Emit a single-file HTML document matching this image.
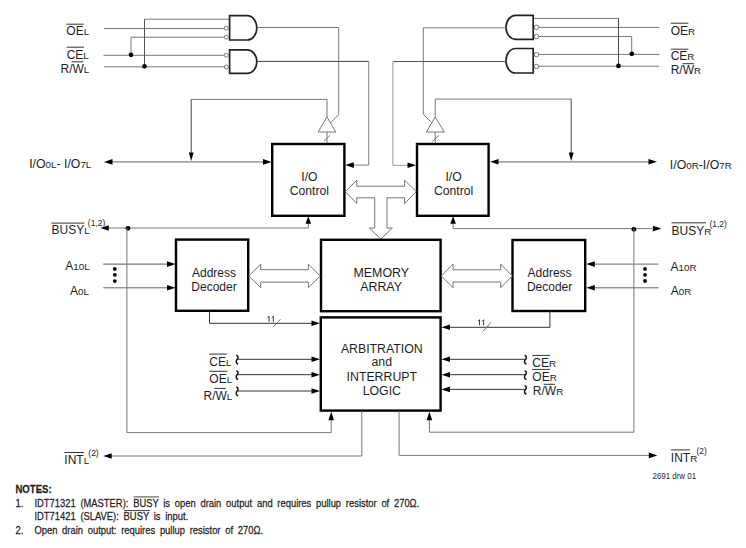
<!DOCTYPE html>
<html><head><meta charset="utf-8"><style>
html,body{margin:0;padding:0;background:#fff;width:746px;height:548px;overflow:hidden}
svg{display:block}
text{font-family:"Liberation Sans",sans-serif;fill:#1e1e1e}
</style></head><body>
<svg width="746" height="548" viewBox="0 0 746 548">
<text x="66.3" y="35.1" font-size="12" text-anchor="start" >OE<tspan font-size="9.8">L</tspan></text>
<line x1="66.3" y1="24.2" x2="83.8" y2="24.2" stroke="#333" stroke-width="1.0"/>
<text x="66.7" y="58.7" font-size="12" text-anchor="start" >CE<tspan font-size="9.8">L</tspan></text>
<line x1="66.7" y1="47.2" x2="84" y2="47.2" stroke="#333" stroke-width="1.0"/>
<text x="60.5" y="73.1" font-size="12" text-anchor="start" >R/W<tspan font-size="9.8">L</tspan></text>
<line x1="71.6" y1="61.8" x2="83.3" y2="61.8" stroke="#333" stroke-width="1.0"/>
<path d="M103.8,28.5 L224.5,28.5" fill="none" stroke="#777" stroke-width="1"/>
<path d="M131,37.2 L224.5,37.2" fill="none" stroke="#777" stroke-width="1"/>
<path d="M131,37.2 L131,54.8" fill="none" stroke="#777" stroke-width="1"/>
<path d="M103.5,55.3 L224.5,55.3" fill="none" stroke="#777" stroke-width="1"/>
<path d="M103.8,66.8 L224.5,66.8" fill="none" stroke="#777" stroke-width="1"/>
<path d="M144.5,19.2 L229.6,19.2" fill="none" stroke="#777" stroke-width="1"/>
<path d="M144.5,19.2 L144.5,66.5" fill="none" stroke="#555" stroke-width="1"/>
<circle cx="131" cy="54.8" r="2.35" fill="#000"/>
<circle cx="144.5" cy="66.3" r="2.35" fill="#000"/>
<path d="M229.6,15.7 H247.2 A9.6,12.15 0 0 1 247.2,40 H229.6 Z" fill="#fff" stroke="#222" stroke-width="1.7"/>
<path d="M229.6,49.9 H247.2 A9.6,11.750000000000004 0 0 1 247.2,73.4 H229.6 Z" fill="#fff" stroke="#222" stroke-width="1.7"/>
<circle cx="226.3" cy="28.2" r="1.95" fill="#fff" stroke="#555" stroke-width="0.8"/>
<circle cx="226.3" cy="37.2" r="1.95" fill="#fff" stroke="#555" stroke-width="0.8"/>
<circle cx="226.3" cy="55.3" r="1.95" fill="#fff" stroke="#555" stroke-width="0.8"/>
<circle cx="226.3" cy="67" r="1.95" fill="#fff" stroke="#555" stroke-width="0.8"/>
<path d="M257,27.5 L338.7,27.5 L338.7,114.6 L330.4,122.9" fill="none" stroke="#777" stroke-width="1"/>
<path d="M257,61.4 L368.7,61.4" fill="none" stroke="#444" stroke-width="1"/>
<path d="M368.7,61.4 L368.7,165.1 L352,165.1" fill="none" stroke="#808080" stroke-width="1"/>
<polygon points="345.3,165.1 353.8,162.29999999999998 353.8,167.9" fill="#000"/>
<path d="M191.2,99.4 L327,99.4 L327,117.2" fill="none" stroke="#777" stroke-width="1"/>
<path d="M191.2,99.4 L191.2,153" fill="none" stroke="#444" stroke-width="1"/>
<polygon points="191.2,160.9 188.79999999999998,152.4 193.6,152.4" fill="#000"/>
<polygon points="327,117.0 318.2,132 335.8,132" fill="#fff" stroke="#777" stroke-width="1"/>
<path d="M327,132 L327,143" fill="none" stroke="#777" stroke-width="1"/>
<line x1="324" y1="141.2" x2="330" y2="135.4" stroke="#777" stroke-width="1"/>
<path d="M112,161.9 L264,161.9" fill="none" stroke="#a4a4a4" stroke-width="1.8"/>
<polygon points="104,161.9 112.5,159.1 112.5,164.70000000000002" fill="#000"/>
<polygon points="271.5,161.9 263.0,159.1 263.0,164.70000000000002" fill="#000"/>
<text x="29.2" y="167.6" font-size="12.3" text-anchor="start" >I/O<tspan font-size="9.8">0L</tspan>- I/O<tspan font-size="9.8">7L</tspan></text>
<text x="670.7" y="34.5" font-size="12" text-anchor="start" >OE<tspan font-size="9.8">R</tspan></text>
<line x1="670.7" y1="23.2" x2="688.4" y2="23.2" stroke="#333" stroke-width="1.0"/>
<text x="670.7" y="60.3" font-size="12" text-anchor="start" >CE<tspan font-size="9.8">R</tspan></text>
<line x1="670.7" y1="49.2" x2="688.4" y2="49.2" stroke="#333" stroke-width="1.0"/>
<text x="670.7" y="74.3" font-size="12" text-anchor="start" >R/W<tspan font-size="9.8">R</tspan></text>
<line x1="682.5" y1="63.7" x2="693.8" y2="63.7" stroke="#333" stroke-width="1.0"/>
<path d="M538.5,27.4 L659.2,27.4" fill="none" stroke="#777" stroke-width="1"/>
<path d="M538.5,36.5 L631.7,36.5" fill="none" stroke="#777" stroke-width="1"/>
<path d="M631.7,36.5 L631.7,54" fill="none" stroke="#777" stroke-width="1"/>
<path d="M538.5,54.4 L659.2,54.4" fill="none" stroke="#777" stroke-width="1"/>
<path d="M538.5,66.2 L659.2,66.2" fill="none" stroke="#777" stroke-width="1"/>
<path d="M533.2,18.4 L618.5,18.4" fill="none" stroke="#777" stroke-width="1"/>
<path d="M618.5,18.4 L618.5,66" fill="none" stroke="#4a4a4a" stroke-width="1"/>
<circle cx="631.8" cy="53.8" r="2.35" fill="#000"/>
<circle cx="618.5" cy="65.9" r="2.35" fill="#000"/>
<path d="M533.2,15.4 H515.6 A9.6,11.95 0 0 0 515.6,39.3 H533.2 Z" fill="#fff" stroke="#222" stroke-width="1.7"/>
<path d="M533.2,48.5 H515.6 A9.6,12.25 0 0 0 515.6,73 H533.2 Z" fill="#fff" stroke="#222" stroke-width="1.7"/>
<circle cx="536.5" cy="27.3" r="2.25" fill="#fff" stroke="#555" stroke-width="0.8"/>
<circle cx="536.5" cy="36.5" r="2.25" fill="#fff" stroke="#555" stroke-width="0.8"/>
<circle cx="536.5" cy="54.6" r="2.25" fill="#fff" stroke="#555" stroke-width="0.8"/>
<circle cx="536.5" cy="66.5" r="2.25" fill="#fff" stroke="#555" stroke-width="0.8"/>
<path d="M506.4,27.8 L423.3,27.8 L423.3,114.2 L431.5,122.6" fill="none" stroke="#777" stroke-width="1"/>
<path d="M506.4,61.5 L392.9,61.5" fill="none" stroke="#555" stroke-width="1"/>
<path d="M392.9,61.5 L392.9,165.3 L408,165.3" fill="none" stroke="#999" stroke-width="1"/>
<polygon points="416,165.3 407.5,162.5 407.5,168.10000000000002" fill="#000"/>
<path d="M571.2,99.1 L435.2,99.1 L435.2,117.2" fill="none" stroke="#777" stroke-width="1"/>
<path d="M571.2,99.1 L571.2,153" fill="none" stroke="#444" stroke-width="1"/>
<polygon points="571.2,161 568.8000000000001,152.5 573.6,152.5" fill="#000"/>
<polygon points="435.2,117.0 426.4,132 444.3,132" fill="#fff" stroke="#777" stroke-width="1"/>
<path d="M435.2,132 L435.2,143" fill="none" stroke="#777" stroke-width="1"/>
<line x1="432.4" y1="141.4" x2="438.7" y2="135.5" stroke="#777" stroke-width="1"/>
<path d="M498,161.9 L649,161.9" fill="none" stroke="#a4a4a4" stroke-width="1.8"/>
<polygon points="490,161.8 498.5,159.0 498.5,164.60000000000002" fill="#000"/>
<polygon points="657,161.8 648.5,159.0 648.5,164.60000000000002" fill="#000"/>
<text x="669.8" y="169.4" font-size="12.3" text-anchor="start" >I/O<tspan font-size="9.8">0R</tspan>-I/O<tspan font-size="9.8">7R</tspan></text>
<rect x="272.2" y="144" width="72.19999999999999" height="71.80000000000001" fill="#fff" stroke="#000" stroke-width="2.4"/>
<text x="309.4" y="180.7" font-size="12.2" text-anchor="middle" >I/O</text>
<text x="309.4" y="194.6" font-size="12.2" text-anchor="middle" >Control</text>
<rect x="417" y="144" width="71.60000000000002" height="71.80000000000001" fill="#fff" stroke="#000" stroke-width="2.4"/>
<text x="453.6" y="180.7" font-size="12.2" text-anchor="middle" >I/O</text>
<text x="453.6" y="194.6" font-size="12.2" text-anchor="middle" >Control</text>
<polygon points="345.4,191.6 356.8,180.2 356.8,186.2 404.6,186.2 404.6,180.2 416.2,191.6 404.6,203.6 404.6,197.8 387,197.8 387,228 392.4,228 380.8,239 369.2,228 374.7,228 374.7,197.8 356.8,197.8 356.8,203.6" fill="#fff" stroke="#666" stroke-width="0.9"/>
<text x="51.5" y="234.2" font-size="12" text-anchor="start" >BUSY<tspan font-size="9.8">L</tspan><tspan font-size="8.5" dy="-8" dx="-1.8">(1,2)</tspan></text>
<line x1="51.5" y1="223.1" x2="84.4" y2="223.1" stroke="#333" stroke-width="1.0"/>
<path d="M108,228 L308.3,228 L308.3,223" fill="none" stroke="#777" stroke-width="1"/>
<polygon points="100.3,228 108.8,225.2 108.8,230.8" fill="#000"/>
<polygon points="308.3,216.3 305.5,223.8 311.1,223.8" fill="#000"/>
<circle cx="128" cy="228.3" r="2.4" fill="#000"/>
<path d="M126.9,228.2 L126.9,432.6 L331.2,432.6 L331.2,420" fill="none" stroke="#777" stroke-width="1"/>
<polygon points="331.2,411.8 328.4,420.3 334.0,420.3" fill="#000"/>
<text x="671.5" y="234.8" font-size="12" text-anchor="start" >BUSY<tspan font-size="9.8">R</tspan><tspan font-size="8.5" dy="-8" dx="-1.8">(1,2)</tspan></text>
<line x1="671.5" y1="222.8" x2="706" y2="222.8" stroke="#333" stroke-width="1.0"/>
<path d="M453.1,223 L453.1,228.6 L652,228.6" fill="none" stroke="#777" stroke-width="1"/>
<polygon points="661.3,228.6 652.8,225.79999999999998 652.8,231.4" fill="#000"/>
<polygon points="453.1,216.3 450.3,223.8 455.90000000000003,223.8" fill="#000"/>
<circle cx="633.9" cy="229.3" r="2.4" fill="#000"/>
<path d="M633.9,228.6 L633.9,432.2 L429.4,432.2 L429.4,420" fill="none" stroke="#777" stroke-width="1"/>
<polygon points="429.4,411.8 426.59999999999997,420.3 432.2,420.3" fill="#000"/>
<rect x="176" y="239.6" width="72.19999999999999" height="71.20000000000002" fill="#fff" stroke="#000" stroke-width="2.4"/>
<text x="214" y="276.5" font-size="12" text-anchor="middle" >Address</text>
<text x="214" y="291" font-size="12" text-anchor="middle" >Decoder</text>
<rect x="512.5" y="240" width="72.70000000000005" height="71" fill="#fff" stroke="#000" stroke-width="2.4"/>
<text x="549.6" y="276.8" font-size="12" text-anchor="middle" >Address</text>
<text x="549.6" y="291.2" font-size="12" text-anchor="middle" >Decoder</text>
<rect x="321" y="239.8" width="119.60000000000002" height="71.39999999999998" fill="#fff" stroke="#000" stroke-width="2.4"/>
<text x="381.3" y="276.6" font-size="12.4" text-anchor="middle" >MEMORY</text>
<text x="381.1" y="291.1" font-size="12.4" text-anchor="middle" >ARRAY</text>
<polygon points="248.9,275.9 260.7,264.1 260.7,269.7 308.4,269.7 308.4,264.1 320.2,275.9 308.4,287.7 308.4,282.1 260.7,282.1 260.7,287.7" fill="#fff" stroke="#666" stroke-width="0.9"/>
<polygon points="441.4,275.9 453.0,264.1 453.0,269.8 500.7,269.8 500.7,264.1 512.3,275.9 500.7,287.7 500.7,282.0 453.0,282.0 453.0,287.7" fill="#fff" stroke="#666" stroke-width="0.9"/>
<text x="65.3" y="269.9" font-size="12" text-anchor="start" >A<tspan font-size="9.8">10L</tspan></text>
<text x="70" y="294.7" font-size="12" text-anchor="start" >A<tspan font-size="9.8">0L</tspan></text>
<path d="M103.3,264.1 L168,264.1" fill="none" stroke="#777" stroke-width="1.2"/>
<polygon points="175.5,264.1 167.0,261.3 167.0,266.90000000000003" fill="#000"/>
<path d="M103.3,287.8 L168,287.8" fill="none" stroke="#666" stroke-width="1"/>
<polygon points="175.5,287.8 167.0,285.0 167.0,290.6" fill="#000"/>
<circle cx="114.8" cy="268.9" r="1.9" fill="#000"/>
<circle cx="114.8" cy="274.8" r="1.9" fill="#000"/>
<circle cx="114.8" cy="281.1" r="1.9" fill="#000"/>
<text x="670.6" y="271.2" font-size="12" text-anchor="start" >A<tspan font-size="9.8">10R</tspan></text>
<text x="670.8" y="295" font-size="12" text-anchor="start" >A<tspan font-size="9.8">0R</tspan></text>
<path d="M594,264.1 L658.5,264.1" fill="none" stroke="#888" stroke-width="1.4"/>
<polygon points="586.3,264.1 594.8,261.3 594.8,266.90000000000003" fill="#000"/>
<path d="M594,287.8 L658.5,287.8" fill="none" stroke="#666" stroke-width="1"/>
<polygon points="586.3,287.8 594.8,285.0 594.8,290.6" fill="#000"/>
<circle cx="645" cy="268.9" r="1.9" fill="#000"/>
<circle cx="645" cy="274.8" r="1.9" fill="#000"/>
<circle cx="645" cy="281.0" r="1.9" fill="#000"/>
<path d="M209.5,311 L209.5,323.3 L312,323.3" fill="none" stroke="#333" stroke-width="1"/>
<polygon points="320,323.3 311.5,320.5 311.5,326.1" fill="#000"/>
<path d="M267.5,317.70000000000005 L269.1,316.1 V321.9" fill="none" stroke="#333" stroke-width="0.95" stroke-linejoin="round"/>
<path d="M271.7,317.70000000000005 L273.3,316.1 V321.9" fill="none" stroke="#333" stroke-width="0.95" stroke-linejoin="round"/>
<line x1="273.2" y1="327.1" x2="280.5" y2="319.3" stroke="#777" stroke-width="1"/>
<path d="M549.9,311 L549.9,327.3 L449.5,327.3" fill="none" stroke="#333" stroke-width="1"/>
<polygon points="441.5,327.3 450.0,324.5 450.0,330.1" fill="#000"/>
<path d="M477.9,321.3 L479.5,319.7 V325.2" fill="none" stroke="#333" stroke-width="0.95" stroke-linejoin="round"/>
<path d="M482.0,321.3 L483.6,319.7 V325.2" fill="none" stroke="#333" stroke-width="0.95" stroke-linejoin="round"/>
<line x1="482.8" y1="331.5" x2="491" y2="322.4" stroke="#777" stroke-width="1"/>
<rect x="320.8" y="317.4" width="119.80000000000001" height="93.20000000000005" fill="#fff" stroke="#000" stroke-width="2.4"/>
<text x="381.8" y="352.8" font-size="12.3" text-anchor="middle" >ARBITRATION</text>
<text x="381.8" y="366.4" font-size="12.3" text-anchor="middle" >and</text>
<text x="381.8" y="380.8" font-size="12.3" text-anchor="middle" >INTERRUPT</text>
<text x="381.8" y="395.1" font-size="12.3" text-anchor="middle" >LOGIC</text>
<text x="209.3" y="365.8" font-size="12" text-anchor="start" >CE<tspan font-size="9.8">L</tspan></text>
<line x1="209.3" y1="354.1" x2="226.8" y2="354.1" stroke="#333" stroke-width="1.0"/>
<text x="209.3" y="382.7" font-size="12" text-anchor="start" >OE<tspan font-size="9.8">L</tspan></text>
<line x1="209.3" y1="371.3" x2="227.4" y2="371.3" stroke="#333" stroke-width="1.0"/>
<text x="203.5" y="399.8" font-size="12" text-anchor="start" >R/W<tspan font-size="9.8">L</tspan></text>
<line x1="214.4" y1="388.4" x2="225.7" y2="388.4" stroke="#333" stroke-width="1.0"/>
<path d="M236.29999999999998,355.3 C238.79999999999998,355.90000000000003 238.2,358.5 237.2,359.3 C236.0,360.3 235.5,363.3 238.1,364.2" fill="none" stroke="#111" stroke-width="1.5"/>
<path d="M238,359.3 L312,359.3" fill="none" stroke="#333" stroke-width="1"/>
<polygon points="320,359.3 311.5,356.5 311.5,362.1" fill="#000"/>
<path d="M236.29999999999998,370.7 C238.79999999999998,371.3 238.2,373.9 237.2,374.7 C236.0,375.7 235.5,378.7 238.1,379.59999999999997" fill="none" stroke="#111" stroke-width="1.5"/>
<path d="M238,374.7 L312,374.7" fill="none" stroke="#333" stroke-width="1"/>
<polygon points="320,374.7 311.5,371.9 311.5,377.5" fill="#000"/>
<path d="M236.29999999999998,387 C238.79999999999998,387.6 238.2,390.2 237.2,391 C236.0,392 235.5,395 238.1,395.9" fill="none" stroke="#111" stroke-width="1.5"/>
<path d="M238,391 L312,391" fill="none" stroke="#333" stroke-width="1"/>
<polygon points="320,391 311.5,388.2 311.5,393.8" fill="#000"/>
<text x="532.3" y="366.7" font-size="12" text-anchor="start" >CE<tspan font-size="9.8">R</tspan></text>
<line x1="532.3" y1="355.4" x2="550" y2="355.4" stroke="#333" stroke-width="1.0"/>
<text x="532.3" y="380.8" font-size="12" text-anchor="start" >OE<tspan font-size="9.8">R</tspan></text>
<line x1="532.3" y1="369.4" x2="550" y2="369.4" stroke="#333" stroke-width="1.0"/>
<text x="532.8" y="395.2" font-size="12" text-anchor="start" >R/W<tspan font-size="9.8">R</tspan></text>
<line x1="543.8" y1="384.3" x2="555" y2="384.3" stroke="#333" stroke-width="1.0"/>
<path d="M524.6,355.3 C527.1,355.90000000000003 526.5,358.5 525.5,359.3 C524.3,360.3 523.8,363.3 526.4,364.2" fill="none" stroke="#111" stroke-width="1.5"/>
<path d="M449.5,359.3 L525,359.3" fill="none" stroke="#333" stroke-width="1"/>
<polygon points="441.5,359.3 450.0,356.5 450.0,362.1" fill="#000"/>
<path d="M524.6,370.7 C527.1,371.3 526.5,373.9 525.5,374.7 C524.3,375.7 523.8,378.7 526.4,379.59999999999997" fill="none" stroke="#111" stroke-width="1.5"/>
<path d="M449.5,374.7 L525,374.7" fill="none" stroke="#333" stroke-width="1"/>
<polygon points="441.5,374.7 450.0,371.9 450.0,377.5" fill="#000"/>
<path d="M524.6,385.4 C527.1,386.0 526.5,388.59999999999997 525.5,389.4 C524.3,390.4 523.8,393.4 526.4,394.29999999999995" fill="none" stroke="#111" stroke-width="1.5"/>
<path d="M449.5,389.4 L525,389.4" fill="none" stroke="#333" stroke-width="1"/>
<polygon points="441.5,389.4 450.0,386.59999999999997 450.0,392.2" fill="#000"/>
<path d="M361.8,411 L361.8,456 L111,456" fill="none" stroke="#777" stroke-width="1"/>
<polygon points="103.2,456 111.7,453.2 111.7,458.8" fill="#000"/>
<path d="M399.1,411 L399.1,455.4 L649,455.4" fill="none" stroke="#777" stroke-width="1"/>
<polygon points="657.3,455.4 648.8,452.59999999999997 648.8,458.2" fill="#000"/>
<text x="64.3" y="464.3" font-size="12" text-anchor="start" >INT<tspan font-size="9.8">L</tspan><tspan font-size="8.5" dy="-8.5" dx="-0.8">(2)</tspan></text>
<line x1="64.3" y1="452.5" x2="84" y2="452.5" stroke="#333" stroke-width="1.0"/>
<text x="670.8" y="461.7" font-size="12" text-anchor="start" >INT<tspan font-size="9.8">R</tspan><tspan font-size="8.5" dy="-8.1" dx="-0.8">(2)</tspan></text>
<line x1="670.8" y1="449.9" x2="690" y2="449.9" stroke="#333" stroke-width="1.0"/>
<text x="652.5" y="478.9" font-size="8.9" text-anchor="start" textLength="43.6" lengthAdjust="spacingAndGlyphs">2691 drw 01</text>
<text transform="translate(15.4,492.6) scale(0.873,1)" x="0" y="0" font-size="11" word-spacing="0" stroke="#222" stroke-width="0.25" font-weight="bold">NOTES:</text>
<text transform="translate(15.6,506.6) scale(0.855,1)" x="0" y="0" font-size="11" word-spacing="0" stroke="#222" stroke-width="0.25" >1.</text>
<text transform="translate(34.4,506.6) scale(0.855,1)" x="0" y="0" font-size="11" word-spacing="2.5" stroke="#222" stroke-width="0.25" >IDT71321 (MASTER): BUSY is open drain output and requires pullup resistor of 270Ω.</text>
<text transform="translate(34.4,520.3) scale(0.855,1)" x="0" y="0" font-size="11" word-spacing="2.5" stroke="#222" stroke-width="0.25" >IDT71421 (SLAVE): BUSY is input.</text>
<text transform="translate(15.6,534.0) scale(0.855,1)" x="0" y="0" font-size="11" word-spacing="0" stroke="#222" stroke-width="0.25" >2.</text>
<text transform="translate(34.4,534.0) scale(0.855,1)" x="0" y="0" font-size="11" word-spacing="2.5" stroke="#222" stroke-width="0.25" >Open drain output: requires pullup resistor of 270Ω.</text>
<line x1="133.5" y1="496.9" x2="158.9" y2="496.9" stroke="#333" stroke-width="0.9"/>
<line x1="124.2" y1="510.5" x2="149.8" y2="510.5" stroke="#333" stroke-width="0.9"/>
</svg>
</body></html>
